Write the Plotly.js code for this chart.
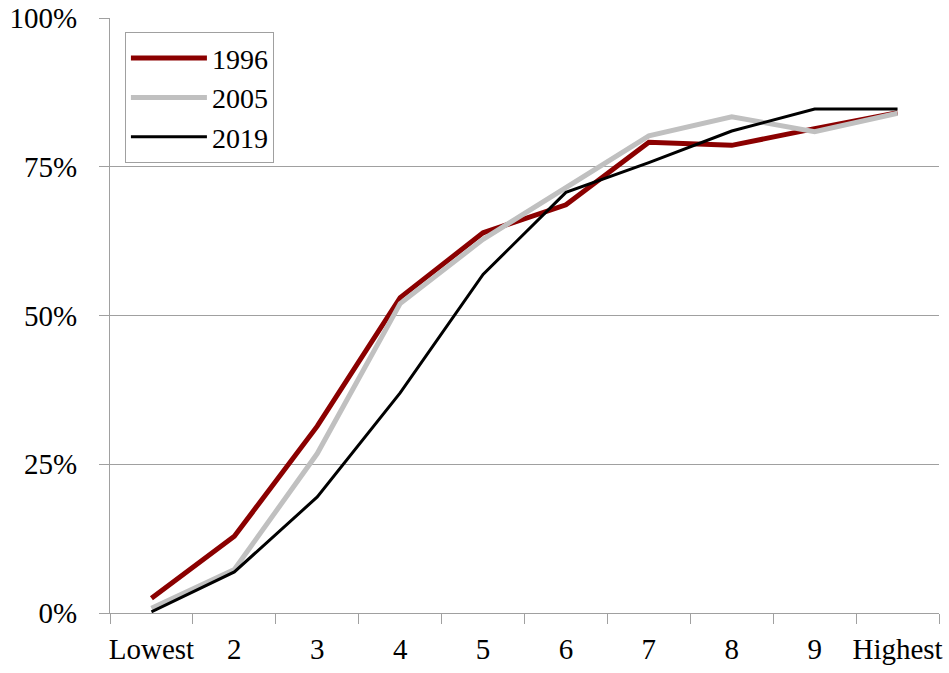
<!DOCTYPE html>
<html>
<head>
<meta charset="utf-8">
<script src="https://cdn.plot.ly/plotly-3.0.1.min.js"></script>
<style>html,body{margin:0;padding:0;background:#fff;}#chart{width:949px;height:673px;}</style>
</head>
<body>
<div id="chart"></div>
<script>
const categories = ["Lowest", "2", "3", "4", "5", "6", "7", "8", "9", "Highest"];
const series1996 = [0.025, 0.129, 0.314, 0.530, 0.639, 0.686, 0.791, 0.786, 0.814, 0.841];
const series2005 = [0.008, 0.073, 0.268, 0.520, 0.628, 0.714, 0.802, 0.834, 0.809, 0.840];
const series2019 = [0.002, 0.069, 0.195, 0.370, 0.569, 0.707, 0.757, 0.810, 0.847, 0.847];

const font = {family: "Liberation Serif", size: 29, color: "#000"};
const gridColor = "#a0a0a0";

const traces = [
  {x: categories, y: series1996, name: "1996", type: "scatter", mode: "lines",
   line: {color: "#8b0000", width: 5}},
  {x: categories, y: series2005, name: "2005", type: "scatter", mode: "lines",
   line: {color: "#c0c0c0", width: 5}},
  {x: categories, y: series2019, name: "2019", type: "scatter", mode: "lines",
   line: {color: "#000000", width: 3}}
];

const layout = {
  width: 949, height: 673,
  margin: {l: 110, r: 10, t: 18, b: 60, pad: 0},
  paper_bgcolor: "#fff", plot_bgcolor: "#fff",
  font: font,
  showlegend: true,
  legend: {x: 0.018, y: 0.976, xanchor: "left", yanchor: "top",
           bordercolor: gridColor, borderwidth: 1, bgcolor: "#fff",
           font: {family: "Liberation Serif", size: 28, color: "#000"},
           itemwidth: 76, tracegroupgap: 0},
  xaxis: {type: "category", range: [-0.5, 9.5], tickson: "boundaries", ticks: "outside", ticklen: 10,
          tickangle: 0, automargin: false, ticklabelstandoff: 10,
          tickcolor: gridColor, showline: true, linecolor: gridColor, linewidth: 1,
          showgrid: false, zeroline: false, tickfont: font, fixedrange: true},
  yaxis: {range: [0, 1], tickvals: [0, 0.25, 0.5, 0.75, 1], tickformat: ".0%",
          ticks: "outside", ticklen: 10, tickcolor: gridColor, automargin: false,
          showline: true, linecolor: gridColor, linewidth: 1,
          showgrid: true, gridcolor: gridColor, gridwidth: 1, zeroline: false,
          tickfont: font, ticklabelstandoff: 16, fixedrange: true}
};

Plotly.newPlot("chart", traces, layout, {displayModeBar: false, staticPlot: true});
</script>
</body>
</html>
